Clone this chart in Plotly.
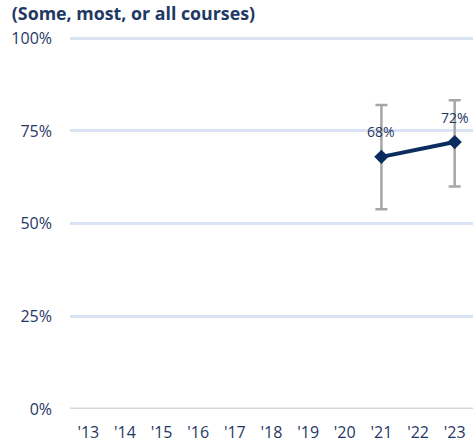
import plotly.graph_objects as go

years = ["'13", "'14", "'15", "'16", "'17", "'18", "'19", "'20", "'21", "'22", "'23"]
values = [None, None, None, None, None, None, None, None, 68, None, 72]
upper = [None, None, None, None, None, None, None, None, 82, None, 83.3]
lower = [None, None, None, None, None, None, None, None, 53.9, None, 60]
y_ticks = [0, 25, 50, 75, 100]
y_tick_text = ["0%", "25%", "50%", "75%", "100%"]

err_plus = [None if v is None else u - v for v, u in zip(values, upper)]
err_minus = [None if v is None else v - l for v, l in zip(values, lower)]

navy = "#0b2c5f"
text_color = "#1f3864"
fig = go.Figure()
fig.add_trace(go.Scatter(
    x=years, y=values, mode="lines+markers", connectgaps=True,
    line=dict(color=navy, width=4),
    marker=dict(symbol="diamond", size=11, color=navy),
    error_y=dict(type="data", symmetric=False, array=err_plus, arrayminus=err_minus,
                 color="#a6a6a6", thickness=2.5, width=6),
    showlegend=False, cliponaxis=False,
))

for x, v in zip(years, values):
    if v is not None:
        fig.add_annotation(x=x, y=v, text=f"{v:.0f}%", showarrow=False,
                           yshift=25, font=dict(family="Open Sans", size=14, color=text_color))

fig.update_layout(
    width=473, height=445,
    margin=dict(l=70, r=0, t=36, b=36),
    paper_bgcolor="white", plot_bgcolor="white",
    font=dict(family="Open Sans", color=text_color),
    title=dict(text="<b>(Some, most, or all courses)</b>", x=0.025, xanchor="left",
               y=1 - 14 / 445, yanchor="middle", font=dict(size=17.8, color=text_color)),
    xaxis=dict(type="category", categoryorder="array", categoryarray=years,
               range=[-0.5, len(years) - 0.5],
               showgrid=False, zeroline=False, showline=False, automargin=False,
               tickfont=dict(size=16, color=text_color), ticks="", ticklabelstandoff=12),
    yaxis=dict(range=[0, 100.6], tickvals=y_ticks, ticktext=y_tick_text,
               showgrid=True, gridcolor="#dae3f4", gridwidth=3, automargin=False,
               zeroline=False, showline=False,
               tickfont=dict(size=16, color=text_color), ticklabelstandoff=17),
)
fig.add_shape(type="line", xref="paper", yref="y", x0=0, x1=1, y0=0, y1=0,
              line=dict(color="#d9d9d9", width=3), layer="above")
fig.write_html("out.html", config={"displayModeBar": False},
               post_script="document.body.style.margin='0';document.body.style.overflow='hidden';")
